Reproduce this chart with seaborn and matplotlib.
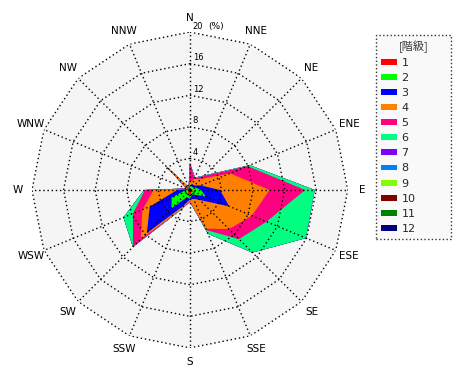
import numpy as np
import matplotlib
matplotlib.use("Agg")
import matplotlib.pyplot as plt
import seaborn as sns
from matplotlib.patches import Patch

sns.set_theme(style="white")
plt.rcParams['font.family'] = ['DejaVu Sans', 'Noto Sans CJK JP']

# 16 wind directions, clockwise from north
directions = ['N', 'NNE', 'NE', 'ENE', 'E', 'ESE', 'SE', 'SSE',
              'S', 'SSW', 'SW', 'WSW', 'W', 'WNW', 'NW', 'NNW']
class_labels = ['1', '2', '3', '4', '5', '6', '7', '8', '9', '10', '11', '12']

# frequency (%) of each class by direction
class_1 = [0.2, 0.2, 0.2, 0.2, 0.3, 0.5, 0.3, 0.4, 1.0, 0.6, 0.3, 0.3, 0.2, 0.1, 0.1, 0.1]
class_2 = [0.3, 0.4, 0.3, 0.6, 1.1, 1.7, 0.5, 0.3, 0.1, 0.4, 3.0, 2.2, 0.3, 0.1, 0.2, 0.1]
class_3 = [0.1, 0.2, 0.3, 0.7, 2.4, 3.2, 1.0, 0.5, 0.1, 1.2, 4.4, 3.0, 1.1, 0.1, 0.2, 0.1]
class_4 = [0.4, 0.7, 1.2, 4.0, 6.3, 3.1, 5.2, 4.1, 0.2, 0.3, 1.1, 1.0, 3.0, 0.1, 3.8, 0.1]
class_5 = [2.4, 0.1, 0.5, 2.4, 4.5, 2.0, 1.8, 0.2, 0.1, 0.0, 1.4, 1.3, 1.1, 0.1, 0.0, 0.0]
class_6 = [0.0, 0.1, 0.1, 0.3, 1.2, 5.4, 2.4, 0.5, 0.0, 0.1, 0.0, 1.3, 0.1, 0.0, 0.0, 0.0]
class_7 = [0.0] * 16
class_8 = [0.0] * 16
class_9 = [0.0] * 16
class_10 = [0.0] * 16
class_11 = [0.0] * 16
class_12 = [0.0] * 16

rings = [4, 8, 12, 16, 20]

colors = sns.color_palette(['#ff0000', '#00ff00', '#0000ff', '#ff8000', '#ff0080', '#00ff80',
                            '#8000ff', '#0080ff', '#80ff00', '#800000', '#008000', '#000080'])

classes = np.array([class_1, class_2, class_3, class_4, class_5, class_6,
                    class_7, class_8, class_9, class_10, class_11, class_12])
cum = np.cumsum(classes, axis=0)

theta = np.deg2rad(np.arange(len(directions)) * 360.0 / len(directions))
theta_c = np.append(theta, theta[0])

fig = plt.figure(figsize=(4.7, 3.8), dpi=100)
ax = fig.add_axes([0.068, 0.084, 0.672, 0.832], projection='polar')
ax.set_theta_zero_location('N')
ax.set_theta_direction(-1)
ax.set_ylim(0, 20)
ax.axis('off')

# grey plot area (16-gon)
ax.fill(theta_c, [rings[-1]] * len(theta_c), color='#f5f5f5', lw=0, zorder=0)

# stacked polygons, outermost first
for i in reversed(range(len(class_labels))):
    r = np.append(cum[i], cum[i][0])
    ax.fill(theta_c, r, color=colors[i], lw=0, zorder=1 + (12 - i) * 0.01)

# polygon grid
dots = (0, (1, 2))
for rr in rings:
    ax.plot(theta_c, [rr] * len(theta_c), color='black', ls=dots, lw=1, zorder=3)
for t in theta:
    ax.plot([t, t], [0, rings[-1]], color='black', ls=dots, lw=1, zorder=3)

# ring labels
for rr in rings:
    ax.annotate(str(rr), xy=(0, rr), xytext=(2, 1), textcoords='offset points',
                ha='left', va='bottom', fontsize=6, color='black', zorder=4)
ax.annotate('(%)', xy=(0, rings[-1]), xytext=(13, 1), textcoords='offset points',
            ha='left', va='bottom', fontsize=6.5, color='black', zorder=4)

# direction labels
for t, d in zip(theta, directions):
    ax.text(t, 21.8, d, ha='center', va='center', fontsize=7.5, color='black')

handles = [Patch(facecolor=c, edgecolor='none') for c in colors]
leg = fig.legend(handles, class_labels, title='[階級]', loc='upper left',
                 bbox_to_anchor=(0.8, 0.908, 0.16, 0.0), mode='expand',
                 borderaxespad=0, fontsize=8, title_fontsize=8,
                 handlelength=1.45, handleheight=0.45, handletextpad=0.4,
                 labelspacing=0.46, borderpad=0.45,
                 frameon=True, fancybox=False, alignment='center')
frame = leg.get_frame()
frame.set_linestyle(':')
frame.set_edgecolor('black')
frame.set_linewidth(1)
frame.set_facecolor('#f8f8f8')
leg.get_title().set_family(['Noto Sans CJK JP', 'DejaVu Sans'])
leg.get_title().set_color('#333333')

fig.savefig('out.png', dpi=100)
